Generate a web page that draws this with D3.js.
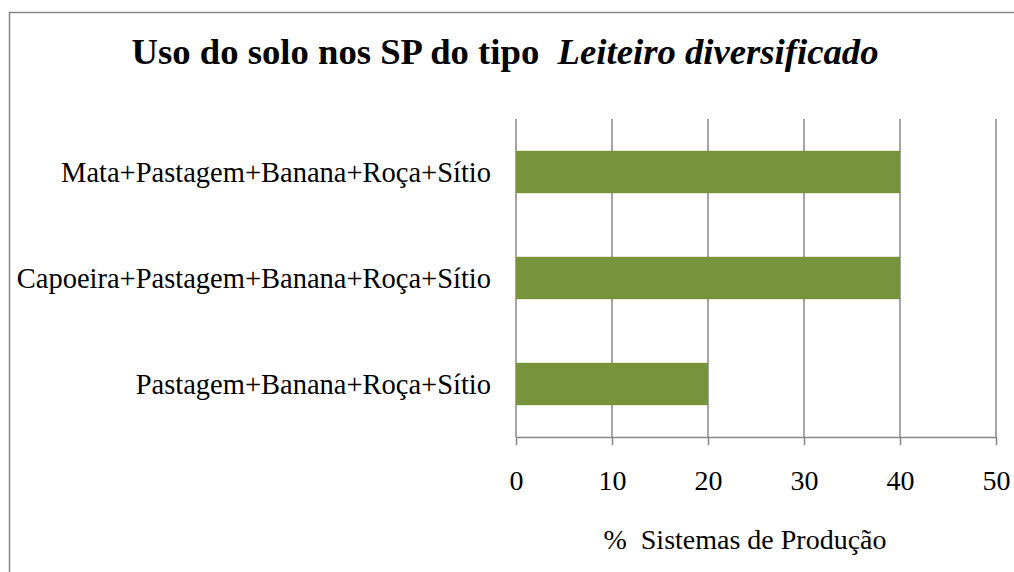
<!DOCTYPE html>
<html>
<head>
<meta charset="utf-8">
<script src="https://cdn.jsdelivr.net/npm/d3@7"></script>
<style>
  body { margin: 0; background: #fff; }
  svg { font-family: "Liberation Serif", "Times New Roman", serif; }
</style>
</head>
<body>
<div id="chart"></div>
<script>
// data
var categories = ["Mata+Pastagem+Banana+Roça+Sítio", "Capoeira+Pastagem+Banana+Roça+Sítio", "Pastagem+Banana+Roça+Sítio"];
var values = [40, 40, 20];
var xTicks = [0, 10, 20, 30, 40, 50];

var width = 1014, height = 572;
var margins = {top: 119, right: 18, bottom: 135, left: 516};

var svg = d3.select("#chart").append("svg")
    .attr("width", width)
    .attr("height", height);

// outer frame
svg.append("rect")
    .attr("x", 9.5).attr("y", 12.5)
    .attr("width", 1020).attr("height", 600)
    .attr("fill", "none")
    .attr("stroke", "#868686")
    .attr("stroke-width", 1.5);

var x = d3.scaleLinear()
    .domain([0, 50])
    .range([margins.left, width - margins.right]);

var y = d3.scaleBand()
    .domain(categories)
    .range([margins.top, height - margins.bottom])
    .paddingInner(0.6)
    .paddingOuter(0.3);

// gridlines
svg.append("g").selectAll("line")
    .data(xTicks)
    .enter().append("line")
    .attr("x1", function(d) { return x(d); })
    .attr("x2", function(d) { return x(d); })
    .attr("y1", margins.top)
    .attr("y2", height - margins.bottom)
    .attr("stroke", "#868686")
    .attr("stroke-width", 1.5);

// bars
svg.append("g").selectAll("rect")
    .data(categories)
    .enter().append("rect")
    .attr("x", x(0))
    .attr("y", function(d) { return y(d); })
    .attr("width", function(d, i) { return x(values[i]) - x(0); })
    .attr("height", y.bandwidth())
    .attr("fill", "#77933C");

// x axis
var xAxis = svg.append("g")
    .attr("transform", "translate(0," + (height - margins.bottom) + ")")
    .call(d3.axisBottom(x).tickValues(xTicks).tickSize(8).tickPadding(25).tickSizeOuter(0));
xAxis.attr("font-family", "Liberation Serif").attr("font-size", 28);
xAxis.select(".domain").attr("stroke", "#868686").attr("stroke-width", 1.5);
xAxis.selectAll(".tick line").attr("stroke", "#868686").attr("stroke-width", 1.5);
xAxis.selectAll("text").attr("fill", "#000");

// category labels
svg.append("g").selectAll("text")
    .data(categories)
    .enter().append("text")
    .attr("x", 491)
    .attr("y", function(d) { return y(d) + y.bandwidth() / 2; })
    .attr("dy", "0.35em")
    .attr("text-anchor", "end")
    .attr("font-size", "28.5px")
    .text(function(d) { return d; });

// title
var title = svg.append("text")
    .attr("x", 505)
    .attr("y", 64)
    .attr("text-anchor", "middle")
    .attr("font-size", "36.7px")
    .attr("font-weight", "bold")
    .attr("xml:space", "preserve");
title.append("tspan").text("Uso do solo nos SP do tipo  ");
title.append("tspan").attr("font-style", "italic").text("Leiteiro diversificado");

// axis title
svg.append("text")
    .attr("x", 745)
    .attr("y", 549)
    .attr("text-anchor", "middle")
    .attr("font-size", "28px")
    .attr("xml:space", "preserve")
    .text("%  Sistemas de Produção");
</script>
</body>
</html>
